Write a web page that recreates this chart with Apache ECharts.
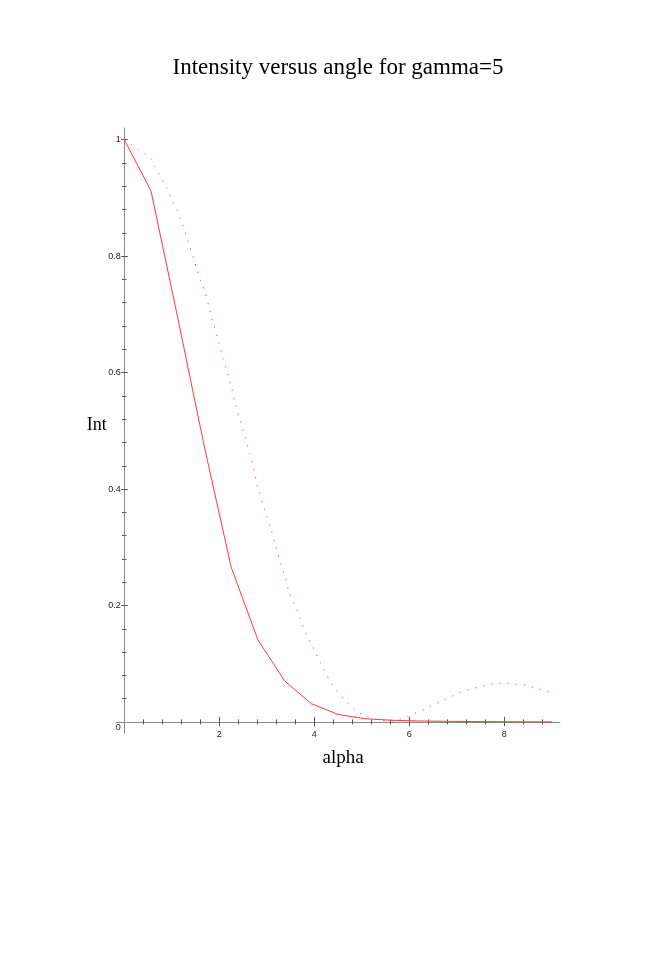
<!DOCTYPE html>
<html>
<head>
<meta charset="utf-8">
<script src="https://cdn.jsdelivr.net/npm/echarts@6/dist/echarts.min.js"></script>
<style>
html,body{margin:0;padding:0;background:#fff;}
#chart{width:664px;height:961px;}
</style>
</head>
<body>
<div id="chart"></div>
<script>
// ---- data ----
const titleText = 'Intensity versus angle for gamma=5';
const xName = 'alpha';
const yName = 'Int';

// solid curve (sampled points)
const solidX = [0, 0.5625, 1.125, 1.6875, 2.25, 2.8125, 3.375, 3.9375, 4.5, 5.0625, 5.625, 6.1875, 6.75, 7.3125, 7.875, 8.4375, 9.0];
const solidY = [1, 0.912, 0.694, 0.472, 0.266, 0.141, 0.0706, 0.0315, 0.013, 0.0057, 0.003, 0.0018, 0.0012, 0.0008, 0.0006, 0.0004, 0.0003];

// dotted curve
const dotX = [0, 0.15, 0.30, 0.45, 0.57, 0.64, 0.73, 0.89, 0.97, 1.05, 1.13, 1.20, 1.30, 1.36, 1.47, 1.52, 1.63, 1.70, 1.79, 1.88, 1.98, 2.07, 2.17, 2.26, 2.35, 2.44, 2.54, 2.64, 2.73, 2.81, 2.97, 3.08, 3.17, 3.27, 3.38, 3.48, 3.60, 3.69, 3.82, 3.98, 4.13, 4.26, 4.36, 4.47, 4.64, 4.90, 5.15, 5.40, 5.63, 5.80, 5.97, 6.15, 6.36, 6.52, 6.68, 6.92, 7.10, 7.26, 7.50, 7.68, 7.87, 8.08, 8.26, 8.45, 8.62, 8.80, 8.97];
const dotY = [1, 0.991, 0.983, 0.975, 0.967, 0.954, 0.941, 0.917, 0.902, 0.889, 0.876, 0.862, 0.836, 0.822, 0.793, 0.780, 0.753, 0.739, 0.710, 0.683, 0.655, 0.626, 0.599, 0.573, 0.544, 0.517, 0.490, 0.461, 0.433, 0.404, 0.361, 0.333, 0.307, 0.278, 0.250, 0.221, 0.200, 0.181, 0.152, 0.127, 0.102, 0.081, 0.066, 0.054, 0.038, 0.018, 0.008, 0.003, 0.002, 0.005, 0.010, 0.016, 0.0235, 0.030, 0.036, 0.045, 0.052, 0.056, 0.0606, 0.0647, 0.0665, 0.0665, 0.0647, 0.0635, 0.059, 0.055, 0.051];

// ticks
const xMajorTicks = [2, 4, 6, 8];
const xMinorTicks = [0.4, 0.8, 1.2, 1.6, 2, 2.4, 2.8, 3.2, 3.6, 4, 4.4, 4.8, 5.2, 5.6, 6, 6.4, 6.8, 7.2, 7.6, 8, 8.4, 8.8];
const yMajorTicks = [0.2, 0.4, 0.6, 0.8, 1];
const yMinorTicks = [0.04, 0.08, 0.12, 0.16, 0.2, 0.24, 0.28, 0.32, 0.36, 0.4, 0.44, 0.48, 0.52, 0.56, 0.6, 0.64, 0.68, 0.72, 0.76, 0.8, 0.84, 0.88, 0.92, 0.96, 1];
const originLabel = '0';

// ---- chart ----
const X_MIN = -0.17, X_MAX = 9.17, Y_MIN = -0.0194, Y_MAX = 1.02;
const axisColor = '#8a8a8a';
const tickColor = '#555';
const labelFont = {fontFamily: '"Liberation Sans", Arial, sans-serif', fontSize: 9, color: '#222'};
const serif = '"Liberation Serif", "Times New Roman", serif';
const lineRed = '#ff3a3a';

function xAx(ticks, len, inside, opts) {
  return Object.assign({
    type: 'value', position: 'bottom', min: X_MIN, max: X_MAX,
    axisLine: {show: false, onZero: true},
    axisTick: {show: true, customValues: ticks, length: len, inside: inside, lineStyle: {color: tickColor, width: 1}},
    axisLabel: {show: false},
    splitLine: {show: false}
  }, opts || {});
}
function yAx(ticks, len, inside, opts) {
  return Object.assign({
    type: 'value', position: 'left', min: Y_MIN, max: Y_MAX,
    axisLine: {show: false, onZero: true},
    axisTick: {show: true, customValues: ticks, length: len, inside: inside, lineStyle: {color: tickColor, width: 1}},
    axisLabel: {show: false},
    splitLine: {show: false}
  }, opts || {});
}

const option = {
  animation: false,
  backgroundColor: '#fff',
  title: {
    text: titleText, left: 333, top: 51, textAlign: 'center',
    textStyle: {fontFamily: serif, fontSize: 23, fontWeight: 'normal', color: '#000'}
  },
  grid: {left: 116.2, right: 104.1, top: 128, bottom: 227.7, containLabel: false},
  xAxis: [
    xAx(xMinorTicks, 2.4, false, {
      axisLine: {show: true, onZero: true, lineStyle: {color: axisColor, width: 1}},
      axisLabel: {show: true, customValues: xMajorTicks, margin: -3.5, ...labelFont},
      name: xName, nameLocation: 'middle', nameGap: 15,
      nameTextStyle: {fontFamily: serif, fontSize: 19, color: '#000', padding: [0, 0, 0, 10]}
    }),
    xAx(xMinorTicks, 2.6, true),
    xAx(xMajorTicks, 4.2, false),
    xAx(xMajorTicks, 5.2, true)
  ],
  yAxis: [
    yAx(yMinorTicks, 2.2, false, {
      axisLine: {show: true, onZero: true, lineStyle: {color: axisColor, width: 1}},
      axisLabel: {show: true, customValues: yMajorTicks, margin: -4.5, ...labelFont},
      name: yName, nameLocation: 'middle', nameRotate: 0, nameGap: 9.5, nameMoveOverlap: false,
      nameTextStyle: {fontFamily: serif, fontSize: 18, color: '#000', verticalAlign: 'bottom', lineHeight: 10}
    }),
    yAx(yMinorTicks, 2.2, true),
    yAx(yMajorTicks, 3, false),
    yAx(yMajorTicks, 3.5, true)
  ],
  graphic: [{
    type: 'text', x: 118.3, y: 727.5,
    style: {text: originLabel, align: 'center', verticalAlign: 'middle',
            fontFamily: '"Liberation Sans", Arial, sans-serif', fontSize: 9, fill: '#222'}
  }],
  series: [
    {
      type: 'line', name: 'solid', xAxisIndex: 0, yAxisIndex: 0,
      showSymbol: false, symbol: 'none',
      lineStyle: {color: lineRed, width: 1},
      data: solidX.map((x, i) => [x, solidY[i]])
    },
    {
      type: 'line', name: 'dotted', xAxisIndex: 0, yAxisIndex: 0,
      showSymbol: false, symbol: 'none', smooth: 0.3,
      lineStyle: {color: lineRed, width: 1, type: [1.2, 7]},
      data: dotX.map((x, i) => [x, dotY[i]])
    }
  ]
};

const chart = echarts.init(document.getElementById('chart'), null, {renderer: 'canvas'});
chart.setOption(option);
</script>
</body>
</html>
